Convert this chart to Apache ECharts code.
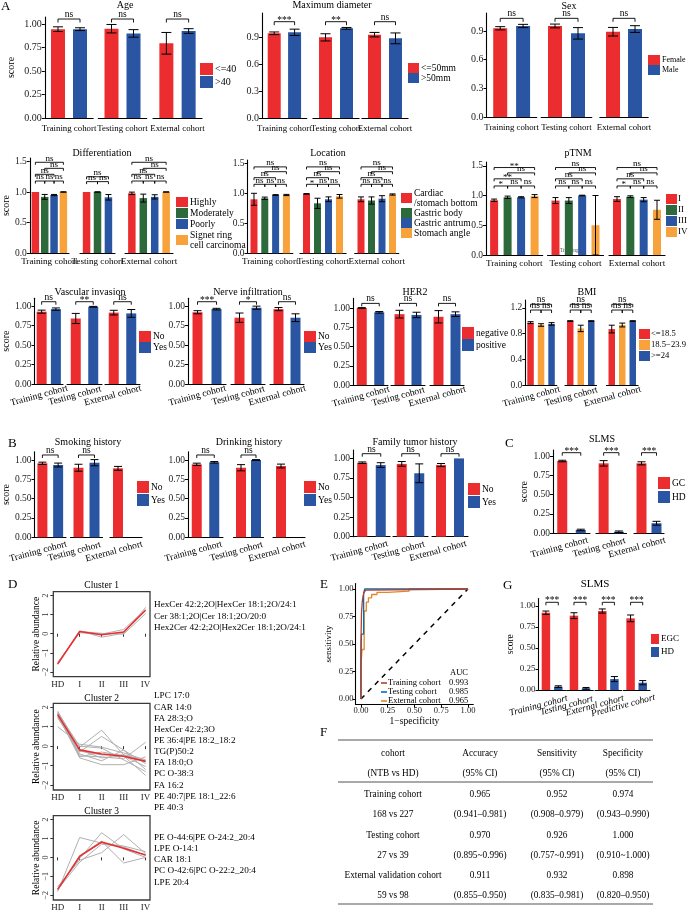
<!DOCTYPE html>
<html><head><meta charset="utf-8">
<script src="https://cdn.jsdelivr.net/npm/echarts@6/dist/echarts.min.js"></script>
<style>html,body{margin:0;padding:0;background:#fff}#main{width:688px;height:912px}</style>
</head><body><div id="main"></div>
<script>
// ================= DATA =================
const cohorts3 = ['Training cohort','Testing cohort','External cohort'];
const cohorts4 = ['Training cohort','Testing cohort','External cohort','Predictive cohort'];

const ageGroups = ['<=40','>40'];
const ageValues = [[0.945,0.945],[0.95,0.90],[0.795,0.925]];
const ageErrors = [[0.025,0.015],[0.045,0.04],[0.115,0.025]];
const ageSig = [[[0,1,'ns']],[[0,1,'ns']],[[0,1,'ns']]];

const diaGroups = ['<=50mm','>50mm'];
const diaValues = [[0.941,0.952],[0.896,0.996],[0.926,0.885]];
const diaErrors = [[0.015,0.035],[0.04,0.01],[0.025,0.06]];
const diaSig = [[[0,1,'***']],[[0,1,'**']],[[0,1,'ns']]];

const sexGroups = ['Female','Male'];
const sexValues = [[0.928,0.952],[0.952,0.875],[0.892,0.92]];
const sexErrors = [[0.017,0.017],[0.02,0.06],[0.045,0.035]];
const sexSig = [[[0,1,'ns']],[[0,1,'ns']],[[0,1,'ns']]];

const difGroups = ['Highly','Moderately','Poorly','Signet ring\ncell carcinoma'];
const difValues = [[1.0,0.92,0.95,1.0],[1.0,1.0,0.913],[0.978,0.90,0.92,1.0]];
const difErrors = [[0,0.04,0.01,0.004],[0,0.004,0.045],[0.02,0.065,0.035,0.003]];
const difSig = [
  [[0,3,'ns'],[1,3,'ns'],[0,2,'ns'],[0,1,'ns'],[1,2,'ns'],[2,3,'ns']],
  [[0,2,'ns'],[0,1,'ns'],[1,2,'ns']],
  [[0,3,'ns'],[1,3,'ns'],[0,2,'ns'],[0,1,'ns'],[1,2,'ns'],[2,3,'ns']]];

const locGroups = ['Cardiac\n/stomach bottom','Gastric body','Gastric antrum','Stomach angle'];
const locValues = [[0.90,0.917,0.972,0.972],[0.99,0.833,0.90,0.95],[0.90,0.88,0.91,0.98]];
const locErrors = [[0.1,0.02,0.006,0.01],[0.005,0.085,0.04,0.03],[0.04,0.06,0.05,0.01]];
const locSig = [
  [[0,3,'ns'],[1,3,'ns'],[0,2,'ns'],[0,1,'ns'],[1,2,'ns'],[2,3,'ns']],
  [[0,3,'ns'],[1,3,'ns'],[0,2,'ns'],[0,1,'*'],[1,2,'ns'],[2,3,'ns']],
  [[0,3,'ns'],[1,3,'ns'],[0,2,'ns'],[0,1,'ns'],[1,2,'ns'],[2,3,'ns']]];

const tnmGroups = ['I','II','III','IV'];
const tnmValues = [[0.92,0.97,0.97,0.99],[0.915,0.915,1.0,0.5],[0.94,0.98,0.93,0.76]];
const tnmErrors = [[0.02,0.02,0.01,0.025],[0.05,0.05,0.005,0.5],[0.04,0.015,0.035,0.16]];
const tnmSig = [
  [[0,3,'**'],[1,3,'ns'],[0,2,'**'],[0,1,'*'],[1,2,'ns'],[2,3,'ns']],
  [[0,3,'ns'],[1,3,'ns'],[0,2,'ns'],[0,1,'ns'],[1,2,'ns'],[2,3,'ns']],
  [[0,3,'ns'],[1,3,'ns'],[0,2,'ns'],[0,1,'*'],[1,2,'ns'],[2,3,'ns']]];

const ynGroups = ['No','Yes'];
const vasValues = [[0.927,0.96],[0.84,0.99],[0.915,0.905]];
const vasErrors = [[0.02,0.015],[0.065,0.005],[0.03,0.05]];
const vasSig = [[[0,1,'ns']],[[0,1,'**']],[[0,1,'ns']]];

const nerValues = [[0.92,0.96],[0.85,0.978],[0.96,0.85]];
const nerErrors = [[0.02,0.01],[0.06,0.02],[0.02,0.05]];
const nerSig = [[[0,1,'***']],[[0,1,'*']],[[0,1,'ns']]];

const herGroups = ['negative','positive'];
const herValues = [[1.0,0.944],[0.92,0.91],[0.886,0.92]];
const herErrors = [[0.005,0.01],[0.05,0.035],[0.08,0.03]];
const herSig = [[[0,1,'ns']],[[0,1,'ns']],[[0,1,'ns']]];

const bmiGroups = ['<=18.5','18.5\u221223.9','>=24'];
const bmiValues = [[0.97,0.933,0.95],[0.995,0.88,0.995],[0.87,0.933,0.995]];
const bmiErrors = [[0.015,0.02,0.02],[0.005,0.05,0.005],[0.06,0.03,0.005]];
const bmiSig = [[[0,2,'ns'],[0,1,'ns'],[1,2,'ns']],[[0,2,'ns'],[0,1,'ns'],[1,2,'ns']],[[0,2,'ns'],[0,1,'ns'],[1,2,'ns']]];

const smkValues = [[0.957,0.935],[0.90,0.965],[0.892,null]];
const smkErrors = [[0.015,0.025],[0.045,0.04],[0.025,0]];
const smkSig = [[[0,1,'ns']],[[0,1,'ns']],[]];

const drkValues = [[0.944,0.97],[0.90,1.0],[0.922,null]];
const drkErrors = [[0.015,0.01],[0.04,0.005],[0.025,0]];
const drkSig = [[[0,1,'ns']],[[0,1,'ns']],[]];

const famValues = [[0.945,0.915],[0.93,0.81],[0.915,1.0]];
const famErrors = [[0.01,0.03],[0.03,0.12],[0.02,0]];
const famSig = [[[0,1,'ns']],[[0,1,'ns']],[[0,1,'ns']]];

const gcGroups = ['GC','HD'];
const gcValues = [[0.935,0.043],[0.905,0.02],[0.905,0.13]];
const gcErrors = [[0.01,0.01],[0.035,0.01],[0.02,0.025]];
const gcSig = [[[0,1,'***']],[[0,1,'***']],[[0,1,'***']]];

const egcGroups = ['EGC','HD'];
const egcValues = [[0.92,0.04],[0.885,0.02],[0.94,0.13],[0.853,0.087]];
const egcErrors = [[0.02,0.01],[0.035,0.01],[0.025,0.03],[0.04,0.025]];
const egcSig = [[[0,1,'***']],[[0,1,'***']],[[0,1,'***']],[[0,1,'***']]];

const stageNames = ['HD','I','II','III','IV'];
const c1Mean = [-1.58,0.12,-0.05,0.09,1.23];
const c1Lines = [[-1.62,0.15,-0.18,0.02,1.38],[-1.5,0.05,-0.02,0.22,1.28],[-1.55,0.12,0.02,-0.02,1.05]];
const c1Names = ['HexCer 42:2;2O|HexCer 18:1;2O/24:1','Cer 38:1;2O|Cer 18:1;2O/20:0','Hex2Cer 42:2;2O|Hex2Cer 18:1;2O/24:1'];
const c2Mean = [1.62,-0.19,-0.40,-0.52,-0.78];
const c2Lines = [
  [1.75,-0.05,0.82,-0.45,-0.75],[1.55,-0.3,0.5,-0.2,-0.9],[1.0,0.1,-0.05,-0.35,-0.7],
  [1.7,-0.5,-0.55,-0.65,0.2],[1.6,-0.6,-0.95,-0.95,-0.55],[1.8,-0.2,-0.6,-0.5,-1.5],
  [1.5,-0.4,-0.75,-0.2,-1.2],[1.65,-0.55,-0.3,-0.5,-1.05],[1.7,0.0,-0.1,-0.7,-1.3],
  [1.45,-0.25,-0.45,-0.45,-0.8]];
const c2Names = ['LPC 17:0','CAR 14:0','FA 28:3;O','HexCer 42:2;3O','PE 36:4|PE 18:2_18:2','TG(P)50:2','FA 18:0;O','PC O-38:3','FA 16:2','PE 40:7|PE 18:1_22:6','PE 40:3'];
const c3Mean = [-1.69,0.05,0.81,0.48,0.12];
const c3Lines = [[-1.8,1.05,0.75,0.6,0.3],[-1.65,-0.05,1.3,0.45,0.0],[-1.55,-0.15,0.25,1.2,0.2],[-1.75,0.1,0.85,-0.3,0.0],[-1.7,-0.25,0.7,0.55,0.1]];
const c3Names = ['PE O-44:6|PE O-24:2_20:4','LPE O-14:1','CAR 18:1','PC O-42:6|PC O-22:2_20:4','LPE 20:4'];

const rocNames = ['Training cohort','Testing cohort','External cohort'];
const rocAuc = ['0.993','0.985','0.965'];
const rocTraining = [[0,0],[0,0.5],[0.005,0.5],[0.005,0.78],[0.012,0.78],[0.012,0.88],[0.02,0.88],[0.02,0.94],[0.03,0.94],[0.03,0.97],[0.045,0.97],[0.045,0.99],[0.07,0.99],[0.07,1],[1,1]];
const rocTesting = [[0,0],[0,0.41],[0.005,0.41],[0.005,0.59],[0.025,0.59],[0.025,0.96],[0.035,0.96],[0.035,1],[1,1]];
const rocExternal = [[0,0],[0,0.3],[0.01,0.3],[0.01,0.45],[0.03,0.45],[0.03,0.8],[0.05,0.8],[0.05,0.88],[0.07,0.88],[0.07,0.92],[0.1,0.92],[0.1,0.95],[0.15,0.95],[0.15,0.97],[0.25,0.97],[0.25,0.98],[0.45,0.98],[0.45,1],[1,1]];

const tableHead1 = ['cohort','Accuracy','Sensitivity','Specificity'];
const tableHead2 = ['(NTB vs HD)','(95% CI)','(95% CI)','(95% CI)'];
const tableRows = [
  ['Training cohort','0.965','0.952','0.974'],
  ['168 vs 227','(0.941\u20130.981)','(0.908\u20130.979)','(0.943\u20130.990)'],
  ['Testing cohort','0.970','0.926','1.000'],
  ['27 vs 39','(0.895~0.996)','(0.757~0.991)','(0.910~1.000)'],
  ['External validation cohort','0.911','0.932','0.898'],
  ['59 vs 98','(0.855\u20130.950)','(0.835\u20130.981)','(0.820\u20130.950)']];

// ================= STYLE / LAYOUT =================
const RED='#EC2D2F', BLUE='#2A55A3', GREEN='#2C6A3B', ORANGE='#F7A23A', GREY='#B0B0B0';
const NEJM=['#BC3C29','#0072B5','#E18727'];
const FONT='"Liberation Serif","Times New Roman",serif';

const grids=[], xAxes=[], yAxes=[], series=[], legends=[], titles=[], graphics=[];

function txt(text,x,y,opt){
  opt=opt||{};
  graphics.push({type:'text', x:x, y:y, rotation:opt.rot||0, silent:true,
    style:{text:text, fill:opt.color||'#000', fontFamily:FONT, fontSize:opt.fs||10,
      fontStyle:opt.italic?'italic':'normal', align:opt.align||'left', verticalAlign:opt.va||'middle',
      lineHeight:opt.lh}});
}
function title(text,x,y,fs,align){
  titles.push({text:text, left:x, top:y, textAlign:align||'center', padding:0,
    textStyle:{fontFamily:FONT, fontSize:fs||10, fontWeight:'normal', color:'#000'}});
}

function errRender(cap){
  return function(params, api){
    const x=api.value(0), v=api.value(1), e=api.value(2);
    const a=api.coord([x, v+e]), b=api.coord([x, Math.max(v-e,0)]);
    const st={stroke:'#000', lineWidth:1};
    return {type:'group', children:[
      {type:'line', shape:{x1:a[0],y1:a[1],x2:b[0],y2:b[1]}, style:st},
      {type:'line', shape:{x1:a[0]-cap,y1:a[1],x2:a[0]+cap,y2:a[1]}, style:st},
      {type:'line', shape:{x1:b[0]-cap,y1:b[1],x2:b[0]+cap,y2:b[1]}, style:st}]};
  };
}
function bracketRender(labels, L){
  return function(params, api){
    const y=api.value(2);
    const p=api.coord([api.value(0), y]), q=api.coord([api.value(1), y]);
    const lab=labels[api.value(3)];
    const star=lab.indexOf('*')>=0;
    return {type:'group', children:[
      {type:'polyline', shape:{points:[[p[0],p[1]+L.tip],[p[0],p[1]],[q[0],q[1]],[q[0],q[1]+L.tip]]},
        style:{stroke:'#000', fill:null, lineWidth:0.9}},
      {type:'text', style:{text:lab, x:(p[0]+q[0])/2, y:p[1]+(star?L.sfs*0.38:0.5), align:'center', verticalAlign:'bottom',
        fontFamily:FONT, fontSize:L.sfs, fill:'#000'}}]};
  };
}

function barPanel(L, D){
  const top=L.zeroY-L.yMax*L.unit, height=L.yMax*L.unit;
  D.values.forEach(function(vals,f){
    const x0=L.facets[f][0], x1=L.facets[f][1], n=vals.length;
    const gi=grids.length;
    grids.push({left:x0, top:top, width:x1-x0, height:height});
    const nts={fontFamily:FONT, fontSize:L.xfs, color:'#000', fontStyle:L.italic?'italic':'normal'};
    if (L.rot){ nts.align='center'; nts.verticalAlign='middle'; nts.padding=[0,2*L.shift,0,0]; }
    xAxes.push({type:'value', gridIndex:gi, min:1-L.pad, max:n+L.pad,
      axisLine:{show:true, onZero:false, lineStyle:{color:'#000', width:1.1}},
      axisTick:{show:false}, axisLabel:{show:false}, splitLine:{show:false},
      name:D.facetNames[f], nameLocation:'middle', nameGap:L.nameGap, nameRotate:L.rot||0, nameTextStyle:nts});
    yAxes.push({type:'value', gridIndex:gi, min:0, max:L.yMax, show:f===0,
      axisLine:{show:true, onZero:false, lineStyle:{color:'#000', width:1.1}},
      axisTick:{show:true, length:3, customValues:L.ticks, lineStyle:{color:'#000'}},
      axisLabel:{customValues:L.ticks, formatter:function(v){return v.toFixed(L.dec);}, fontFamily:FONT, fontSize:L.yfs, color:'#222', margin:3},
      splitLine:{show:false},
      name:(f===0&&L.score!=null)?'score':'', nameLocation:'middle', nameGap:L.score||0,
      nameTextStyle:{fontFamily:FONT, fontSize:L.scoreFs||10, color:'#000'}});
    vals.forEach(function(v,i){
      if (v==null) return;
      series.push({type:'bar', name:D.groups[i], xAxisIndex:gi, yAxisIndex:gi, barWidth:L.barW, barGap:'-100%',
        data:[[i+1,v]], itemStyle:{color:D.colors[i]}, silent:true});
    });
    const ed=[];
    vals.forEach(function(v,i){ const e=D.errors[f][i]; if (v!=null && e) ed.push([i+1,v,e]); });
    series.push({type:'custom', xAxisIndex:gi, yAxisIndex:gi, data:ed, renderItem:errRender(L.cap), z:5, silent:true});
    const sg=D.sig[f];
    if (sg.length){
      const lev=L.levels[n];
      series.push({type:'custom', xAxisIndex:gi, yAxisIndex:gi, z:5, silent:true,
        data:sg.map(function(s,k){return [s[0]+1, s[1]+1, lev[k], k];}),
        renderItem:bracketRender(sg.map(function(s){return s[2];}), L)});
    }
  });
  if (D.title) title(D.title, L.titleX, L.titleY, L.titleFs||10);
  legends.push({left:L.lg[0], top:L.lg[1], orient:'vertical', padding:0, icon:'rect', selectedMode:false,
    itemWidth:L.lg[2], itemHeight:L.lg[3], itemGap:L.lg[4], data:D.groups.slice(),
    textStyle:{fontFamily:FONT, fontSize:L.lg[5], color:'#000', lineHeight:L.lg[6]||L.lg[3], padding:[0,0,0,L.lg[7]!=null?L.lg[7]:-3]}});
}

const R1={yfs:10, xfs:8.8, nameGap:6, tip:3.5, sfs:9.5, cap:5, barW:14, pad:0.6};
const R2={yfs:9.5, xfs:9.1, nameGap:4, tip:2.5, sfs:9, cap:3, barW:7.5, pad:0.6};
const R3={yfs:9.5, xfs:9.5, rot:15, shift:10, nameGap:9, tip:3, sfs:9.5, cap:4, barW:10, pad:0.5};
const RB={yfs:9.5, xfs:9.5, rot:15, shift:12.5, nameGap:11, tip:3, sfs:9.5, cap:4, barW:10, pad:0.5};
const T4=[0,0.25,0.5,0.75,1], T3=[0,0.3,0.6,0.9], T15=[0,0.5,1,1.5], TB=[0,0.4,0.8,1.2];
function mk(base, extra){ return Object.assign({}, base, extra); }

// Row A1
barPanel(mk(R1,{zeroY:118, unit:94, yMax:1.075, ticks:T4, dec:2, facets:[[44.8,93.2],[98.3,146.7],[153,202]],
  levels:{2:[1.053]}, score:28, titleX:125, titleY:0, lg:[200,63,13,12,1,10]}),
  {title:'Age', groups:ageGroups, colors:[RED,BLUE], values:ageValues, errors:ageErrors, sig:ageSig, facetNames:cohorts3});
barPanel(mk(R1,{zeroY:118, unit:90, yMax:1.167, ticks:T3, dec:1, facets:[[262,306.8],[312.9,359.1],[361.9,408.1]], barW:13,
  levels:{2:[1.07]}, titleX:332, titleY:0, lg:[408,63,11,10,0,9.5]}),
  {title:'Maximum diameter', groups:diaGroups, colors:[RED,BLUE], values:diaValues, errors:diaErrors, sig:diaSig, facetNames:cohorts3});
barPanel(mk(R1,{zeroY:117, unit:95.6, yMax:1.088, ticks:T3, dec:1, facets:[[486.5,536.8],[541.2,591.8],[599.8,648.2]],
  levels:{2:[1.032]}, titleX:569, titleY:1, lg:[648,55,12,10,0,8]}),
  {title:'Sex', groups:sexGroups, colors:[RED,BLUE], values:sexValues, errors:sexErrors, sig:sexSig, facetNames:cohorts3});

// Row A2
barPanel(mk(R2,{zeroY:253, unit:61, yMax:1.557, ticks:T15, dec:1, facets:[[22,69],[80,115],[125,173]],
  levels:{4:[1.487,1.388,1.29,1.18,1.18,1.18], 3:[1.25,1.17,1.17]}, score:13.5, titleX:102, titleY:148, lg:[176,197,12,10,1,9.5]}),
  {title:'Differentiation', groups:difGroups, colors:[RED,GREEN,BLUE,ORANGE], values:difValues, errors:difErrors, sig:difSig, facetNames:cohorts3});
barPanel(mk(R2,{zeroY:253.3, unit:60, yMax:1.555, ticks:T15, dec:1, facets:[[247.5,292.9],[299.9,346.1],[354.7,398.8]], barW:7,
  levels:{4:[1.44,1.36,1.26,1.15,1.15,1.15]}, titleX:328, titleY:148, lg:[401,188,11,10,0,9.5]}),
  {title:'Location', groups:locGroups, colors:[RED,GREEN,BLUE,ORANGE], values:locValues, errors:locErrors, sig:locSig, facetNames:cohorts3});
barPanel(mk(R2,{zeroY:255, unit:59.5, yMax:1.563, ticks:T15, dec:1, facets:[[486,542.7],[547.5,603.5],[609,665]], barW:8,
  levels:{4:[1.47,1.38,1.28,1.16,1.16,1.16]}, titleX:578, titleY:148, lg:[666,194,11,10,1,9,0,-4]}),
  {title:'pTNM', groups:tnmGroups, colors:[RED,GREEN,BLUE,ORANGE], values:tnmValues, errors:tnmErrors, sig:tnmSig, facetNames:cohorts3});
txt('Training set', 573, 251, {fs:5.5, color:'#555', align:'center'});

// Row A3
barPanel(mk(R3,{zeroY:384, unit:78, yMax:1.10, ticks:T4, dec:2, facets:[[28,63],[67,102],[105,140]],
  levels:{2:[1.055]}, score:19.5, titleX:90, titleY:287, lg:[139,331,12,11,0,9.5]}),
  {title:'Vascular invasion', groups:ynGroups, colors:[RED,BLUE], values:vasValues, errors:vasErrors, sig:vasSig, facetNames:cohorts3});
barPanel(mk(R3,{zeroY:384, unit:78, yMax:1.10, ticks:T4, dec:2, facets:[[188,226],[231,265],[270,304]],
  levels:{2:[1.055]}, titleX:248, titleY:287, lg:[304,331,12,11,0,9.5]}),
  {title:'Nerve infiltration', groups:ynGroups, colors:[RED,BLUE], values:nerValues, errors:nerErrors, sig:nerSig, facetNames:cohorts3});
barPanel(mk(R3,{zeroY:385, unit:77, yMax:1.125, ticks:T4, dec:2, facets:[[353,388],[391,425],[430,464]],
  levels:{2:[1.06]}, titleX:415, titleY:287, lg:[462,327,12,12,0,9.5]}),
  {title:'HER2', groups:herGroups, colors:[RED,BLUE], values:herValues, errors:herErrors, sig:herSig, facetNames:cohorts3});
barPanel(mk(R3,{zeroY:385, unit:64.3, yMax:1.32, ticks:TB, dec:1, facets:[[525.3,556.8],[565,596.5],[606.5,638]], barW:6.5, cap:3,
  levels:{3:[1.255,1.166,1.166]}, titleX:587, titleY:287, lg:[639,329,11,10,1,8.6,0,-4]}),
  {title:'BMI', groups:bmiGroups, colors:[RED,ORANGE,BLUE], values:bmiValues, errors:bmiErrors, sig:bmiSig, facetNames:cohorts3});

// Row B / C
barPanel(mk(RB,{zeroY:537.3, unit:77.3, yMax:1.107, ticks:T4, dec:2, facets:[[32,66],[70.5,102.5],[110,142]],
  levels:{2:[1.065]}, score:14.5, titleX:88, titleY:437, lg:[137,481,12,12,1,9.5]}),
  {title:'Smoking history', groups:ynGroups, colors:[RED,BLUE], values:smkValues, errors:smkErrors, sig:smkSig, facetNames:cohorts3});
barPanel(mk(RB,{zeroY:537.3, unit:77.3, yMax:1.107, ticks:T4, dec:2, facets:[[188,223],[233.5,263.5],[273,305]],
  levels:{2:[1.065]}, titleX:249, titleY:437, lg:[304,481,12,12,1,9.5]}),
  {title:'Drinking history', groups:ynGroups, colors:[RED,BLUE], values:drkValues, errors:drkErrors, sig:drkSig, facetNames:cohorts3});
barPanel(mk(RB,{zeroY:536.7, unit:78.3, yMax:1.107, ticks:T4, dec:2, facets:[[353,390],[393,428],[432,468]],
  levels:{2:[1.06]}, titleX:415, titleY:437, lg:[468,483,12,12,1,9.5]}),
  {title:'Family tumor history', groups:ynGroups, colors:[RED,BLUE], values:famValues, errors:famErrors, sig:famSig, facetNames:cohorts3});
barPanel(mk(RB,{zeroY:533.3, unit:77.3, yMax:1.078, ticks:T4, dec:2, facets:[[553,590],[596,626.5],[634,664]],
  levels:{2:[1.043]}, score:22.5, titleX:602, titleY:434, lg:[658,477,12,12,2,9.5]}),
  {title:'SLMS', groups:gcGroups, colors:[RED,BLUE], values:gcValues, errors:gcErrors, sig:gcSig, facetNames:cohorts3});

// G
barPanel(mk(RB,{zeroY:690, unit:84, yMax:1.09, ticks:T4, dec:2, facets:[[538.5,565.7],[566.7,593.3],[595,621.7],[623.3,650]],
  pad:0.6, barW:8.5, cap:3.5, italic:true, shift:14, nameGap:12, levels:{2:[1.044]}, score:11, scoreFs:9.5, yfs:9,
  titleX:595, titleY:579, titleFs:11, lg:[651,634,8,10,3,9]}),
  {title:'SLMS', groups:egcGroups, colors:[RED,BLUE], values:egcValues, errors:egcErrors, sig:egcSig, facetNames:cohorts4});

// Panel letters
title('A',1,0,13,'left'); title('B',8,437,13,'left'); title('C',505,437,13,'left');
title('D',8,578,13,'left'); title('E',320,578,13,'left'); title('F',320,726,13,'left'); title('G',503,579,13,'left');

// ---------- D clusters ----------
function cluster(L, mean, lines, names){
  const gi=grids.length;
  grids.push({left:L.x, top:L.y, width:L.w, height:L.h, show:true, borderColor:'#3a3a3a', borderWidth:1.3, backgroundColor:'#fff'});
  xAxes.push({type:'value', gridIndex:gi, min:0.8, max:5.2, axisLine:{show:false},
    axisTick:{show:true, customValues:[1,2,3,4,5], length:3, lineStyle:{color:'#333'}},
    axisLabel:{customValues:[1,2,3,4,5], formatter:function(v){return stageNames[Math.round(v)-1];}, fontFamily:FONT, fontSize:9, color:'#222', margin:3},
    splitLine:{show:false}});
  yAxes.push({type:'value', gridIndex:gi, min:-2.25, max:2.2, axisLine:{show:false},
    axisTick:{show:true, customValues:[-2,-1,0,1,2], length:3, lineStyle:{color:'#333'}},
    axisLabel:{customValues:[-2,-1,0,1,2], rotate:90, formatter:function(v){return String(v).replace('-','\u2212');}, fontFamily:FONT, fontSize:8, color:'#333', margin:3},
    splitLine:{show:false}, name:'Relative abundance', nameLocation:'middle', nameGap:12,
    nameTextStyle:{fontFamily:FONT, fontSize:9.5, color:'#000'}});
  lines.forEach(function(l){
    series.push({type:'line', xAxisIndex:gi, yAxisIndex:gi, data:l.map(function(v,i){return [i+1,v];}), symbol:'none',
      lineStyle:{color:GREY, width:1}, silent:true, z:2});
  });
  series.push({type:'line', xAxisIndex:gi, yAxisIndex:gi, data:mean.map(function(v,i){return [i+1,v];}), symbol:'none',
    lineStyle:{color:RED, width:1.6}, silent:true, z:3});
  title(L.title, L.x+L.w/2, L.ty, 9.5);
  txt(names.join('\n'), 154, L.ly, {fs:9.2, va:'top', lh:11.15});
}
cluster({x:53.3, y:591.7, w:96.7, h:85, title:'Cluster 1', ty:580, ly:599.4}, c1Mean, c1Lines, c1Names);
cluster({x:53.3, y:703.3, w:96.7, h:86.7, title:'Cluster 2', ty:693, ly:690.4}, c2Mean, c2Lines, c2Names);
cluster({x:53.3, y:815.7, w:96.7, h:86, title:'Cluster 3', ty:806, ly:832}, c3Mean, c3Lines, c3Names);

// ---------- E ROC ----------
(function(){
  const gi=grids.length;
  grids.push({left:355.6, top:583.5, width:117.7, height:121});
  const tk=[0,0.25,0.5,0.75,1];
  xAxes.push({type:'value', gridIndex:gi, min:-0.05, max:1.05,
    axisLine:{onZero:false, lineStyle:{color:'#000', width:1.1}}, axisTick:{customValues:tk, length:3, lineStyle:{color:'#000'}},
    axisLabel:{customValues:tk, formatter:function(v){return v.toFixed(2);}, fontFamily:FONT, fontSize:8.5, color:'#222', margin:2},
    splitLine:{show:false}, name:'1\u2212specificity', nameLocation:'middle', nameGap:9,
    nameTextStyle:{fontFamily:FONT, fontSize:9.5, color:'#000'}});
  yAxes.push({type:'value', gridIndex:gi, min:-0.05, max:1.05,
    axisLine:{onZero:false, lineStyle:{color:'#000', width:1.1}}, axisTick:{customValues:tk, length:3, lineStyle:{color:'#000'}},
    axisLabel:{customValues:tk, formatter:function(v){return v.toFixed(2);}, fontFamily:FONT, fontSize:8.5, color:'#222', margin:2},
    splitLine:{show:false}, name:'sensitivity', nameLocation:'middle', nameGap:22,
    nameTextStyle:{fontFamily:FONT, fontSize:9, color:'#000'}});
  series.push({type:'line', xAxisIndex:gi, yAxisIndex:gi, data:[[0,0],[1,1]], symbol:'none', silent:true,
    lineStyle:{color:'#000', width:1.5, type:[5,5]}});
  [rocTraining, rocTesting, rocExternal].forEach(function(d,k){
    series.push({type:'line', name:rocNames[k], xAxisIndex:gi, yAxisIndex:gi, data:d, symbol:'none', silent:true,
      color:NEJM[k], lineStyle:{color:NEJM[k], width:1.3}, z:3+(2-k)});
  });
  legends.push({left:381, top:678.5, orient:'vertical', padding:0, icon:'rect', selectedMode:false,
    itemWidth:6, itemHeight:1.6, itemGap:0, data:rocNames.slice(),
    formatter:function(name){ return '{n|'+name+'}{v|'+rocAuc[rocNames.indexOf(name)]+'}'; },
    textStyle:{fontFamily:FONT, fontSize:8.5, color:'#000', lineHeight:7.7, padding:[0,0,0,-4],
      rich:{n:{width:61, fontFamily:FONT, fontSize:8.5, lineHeight:7.7}, v:{fontFamily:FONT, fontSize:8.5, lineHeight:7.7}}}});
  txt('AUC', 450, 673, {fs:8.5});
})();

// ---------- F table ----------
(function(){
  const cx=[393,480,557,623];
  [740,782,904].forEach(function(y){
    graphics.push({type:'line', silent:true, shape:{x1:338,y1:y,x2:653,y2:y}, style:{stroke:'#555', lineWidth:1.1}});
  });
  const fs=9.3;
  tableHead1.forEach(function(t,i){ txt(t, cx[i], 753.3, {fs:fs, align:'center'}); });
  tableHead2.forEach(function(t,i){ txt(t, cx[i], 773.3, {fs:fs, align:'center'}); });
  const ry=[795,815,835.7,855.7,876,896];
  tableRows.forEach(function(r,j){ r.forEach(function(t,i){ txt(t, cx[i], ry[j], {fs:fs, align:'center'}); }); });
})();

const chart=echarts.init(document.getElementById('main'), null, {renderer:'canvas'});
chart.setOption({animation:false, backgroundColor:'#fff', title:titles, grid:grids, xAxis:xAxes, yAxis:yAxes,
  legend:legends, series:series, graphic:graphics});
</script></body></html>
